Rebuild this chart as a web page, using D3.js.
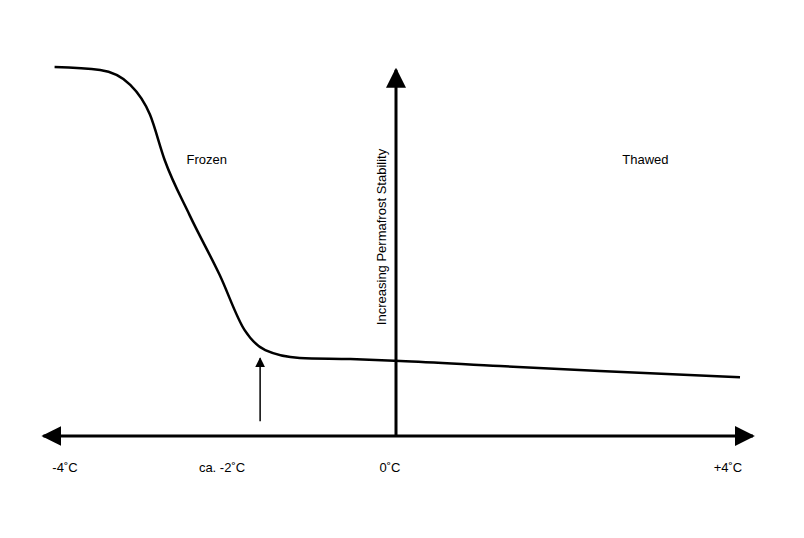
<!DOCTYPE html><html><head><meta charset="utf-8"><script src="https://cdn.jsdelivr.net/npm/d3@7"></script>
<style>body{margin:0;background:#fff}text{font-family:"Liberation Sans",Arial,sans-serif;font-size:13px;fill:#000}</style></head><body>
<script>
const temps=[-3.97,-3.44,-3.09,-2.86,-2.69,-2.40,-2.05,-1.76,-1.52,-1.12,-0.53,0.05,1.21,2.37,4.0];
const stability=[99.7,98.9,94.9,86.8,74.6,59.7,43.5,28.6,23.2,21.1,20.8,20.3,18.9,17.6,15.9];
const tickVals=[-4,-2,0,4];
const tickLabels=["-4˚C","ca. -2˚C","0˚C","+4˚C"];
const regionLabels=["Frozen","Thawed"];
const yLabel="Increasing Permafrost Stability";
const W=804,H=538;
const x=d3.scaleLinear().domain([-4,4]).range([52,740]);
const y=d3.scaleLinear().domain([0,100]).range([436,66]);
const svg=d3.select("body").append("svg").attr("width",W).attr("height",H);
const defs=svg.append("defs");
function mk(id,s){defs.append("marker").attr("id",id).attr("viewBox","0 0 10 10").attr("refX",9).attr("refY",5).attr("markerWidth",s).attr("markerHeight",s).attr("orient","auto-start-reverse").attr("markerUnits","userSpaceOnUse").append("path").attr("d","M0,0L10,5L0,10z").attr("fill","#000");}
mk("a",20);mk("b",10);
svg.append("line").attr("x1",x(-4.1)).attr("x2",x(4.15)).attr("y1",y(0)).attr("y2",y(0)).attr("stroke","#000").attr("stroke-width",3).attr("marker-start","url(#a)").attr("marker-end","url(#a)");
svg.append("line").attr("x1",x(0)).attr("x2",x(0)).attr("y1",y(0)).attr("y2",y(99)).attr("stroke","#000").attr("stroke-width",3).attr("marker-end","url(#a)");
svg.append("path").datum(temps.map((t,i)=>[t,stability[i]])).attr("d",d3.line().x(d=>x(d[0])).y(d=>y(d[1])).curve(d3.curveMonotoneX)).attr("fill","none").attr("stroke","#000").attr("stroke-width",2.5);
svg.append("line").attr("x1",x(-1.58)).attr("x2",x(-1.58)).attr("y1",y(4)).attr("y2",y(21)).attr("stroke","#000").attr("stroke-width",1.5).attr("marker-end","url(#b)");
const lx=[65,253,389,727];
tickVals.forEach((v,i)=>svg.append("text").attr("x",i==0?65:i==3?728:x(v)+(i==1?-2:-6)).attr("y",472).attr("text-anchor","middle").text(tickLabels[i]));
svg.append("text").attr("x",x(-2.2)).attr("y",164).attr("text-anchor","middle").text(regionLabels[0]);
svg.append("text").attr("x",x(2.9)).attr("y",164).attr("text-anchor","middle").text(regionLabels[1]);
svg.append("text").attr("transform",`translate(386,237) rotate(-90)`).attr("text-anchor","middle").text(yLabel);
</script></body></html>
